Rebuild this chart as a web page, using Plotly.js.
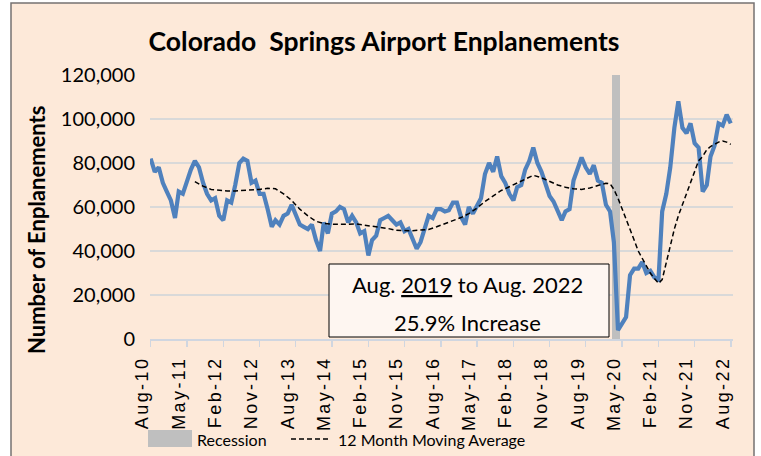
<!DOCTYPE html>
<html>
<head>
<meta charset="utf-8">
<script src="https://cdn.plot.ly/plotly-3.0.1.min.js"></script>
<style>
  html, body { margin: 0; padding: 0; background: #ffffff; }
  #chart { width: 761px; height: 456px; }
  .xtick text { letter-spacing: 2.4px !important; }
</style>
</head>
<body>
<div id="chart"></div>
<script>
// ---- Data ----
const startMonth = '2010-08';            // first month of the series
const enplanements = [
  // 2010 Aug-Dec
  82000, 76000, 78000, 71000, 67000,
  // 2011
  63000, 55000, 67000, 66000, 72000, 77000, 81000, 78000, 71000, 66000, 63000, 64000,
  // 2012
  56000, 54000, 63000, 62000, 70000, 80000, 82000, 81000, 71000, 72000, 66000, 66000,
  // 2013
  59000, 51000, 54000, 52000, 56000, 57000, 61000, 56000, 52000, 51000, 50000, 52000,
  // 2014
  45000, 40000, 53000, 48000, 57000, 58000, 60000, 59000, 53000, 56000, 53000, 48000,
  // 2015
  49000, 38000, 45000, 47000, 54000, 55000, 56000, 54000, 52000, 53000, 49000, 50000,
  // 2016
  45000, 41000, 44000, 50000, 56000, 55000, 59000, 59000, 58000, 58500, 62000, 62000,
  // 2017
  55500, 52000, 60000, 57000, 60000, 64000, 75000, 80000, 76000, 83000, 74000, 71000,
  // 2018
  66000, 63000, 69000, 70000, 77000, 81000, 87000, 80000, 76000, 70000, 65000, 62500,
  // 2019
  58000, 54000, 58000, 59000, 72000, 77000, 82500, 78000, 75000, 79000, 72000, 71000,
  // 2020
  61000, 58000, 44000, 4000, 7000, 10000, 29000, 32000, 32000, 35000, 30000, 31000,
  // 2021
  28000, 27000, 58000, 66000, 78000, 96000, 108000, 96000, 93500, 98000, 89000, 87000,
  // 2022 Jan-Aug
  67000, 70000, 83000, 88000, 98000, 97000, 102000, 98000
];

const maMonths = [
  '2011-07','2011-09','2011-11','2012-01','2012-03','2012-05','2012-07','2012-09','2012-11',
  '2013-01','2013-03','2013-05','2013-07','2013-09','2013-11','2014-01','2014-03','2014-05',
  '2014-07','2014-09','2014-11','2015-01','2015-03','2015-05','2015-07','2015-09','2015-11',
  '2016-01','2016-03','2016-05','2016-07','2016-09','2016-11','2017-01','2017-03','2017-05',
  '2017-07','2017-09','2017-11','2018-01','2018-03','2018-05','2018-07','2018-09','2018-11',
  '2019-01','2019-03','2019-05','2019-07','2019-09','2019-11','2020-01','2020-02','2020-03',
  '2020-04','2020-05','2020-06','2020-07','2020-08','2020-09','2020-10','2020-11','2020-12',
  '2021-01','2021-02','2021-03','2021-04','2021-05','2021-06','2021-07','2021-08','2021-09',
  '2021-10','2021-11','2021-12','2022-01','2022-02','2022-03','2022-04','2022-05','2022-06',
  '2022-07','2022-08'
];
const maValues = [
  71500, 69500, 68000, 67500, 67300, 67300, 67500, 67700, 68000,
  68500, 68300, 66000, 63000, 59000, 56000, 53500, 52500, 52200,
  52100, 52200, 52300, 51800, 51300, 50800, 50200, 49400, 49200,
  49200, 49500, 49800, 51000, 52400, 53800, 55200, 57000, 59500,
  62500, 65200, 67500, 69200, 71000, 72500, 74400, 73300, 71500,
  70000, 69000, 68300, 68000, 68600, 69800, 70800, 70600, 68000,
  64000, 59500, 54500, 50000, 45000, 40000, 36500, 33000, 30000,
  27500, 25300, 27000, 35000, 43000, 50000, 56000, 61000, 66000,
  71000, 76000, 81000, 83000, 86000, 87500, 88500, 89500, 90000,
  89500, 88500
];

const recessionMonths = ['2020-03-01', '2020-04-01'];
const recessionTop = [120000, 120000];

const tickLabelsText = ['Aug-10','May-11','Feb-12','Nov-12','Aug-13','May-14','Feb-15','Nov-15',
                        'Aug-16','May-17','Feb-18','Nov-18','Aug-19','May-20','Feb-21','Nov-21','Aug-22'];
const yTicks = [0, 20000, 40000, 60000, 80000, 100000, 120000];

const chartTitle = 'Colorado\u00A0 Springs Airport Enplanements';
const yTitle = 'Number of Enplanements';
const boxLine1 = 'Aug. <u>2019</u> to Aug. 2022';
const boxLine2 = '25.9% Increase';
const legendRecession = 'Recession';
const legendMA = '12 Month Moving Average';

// ---- Build monthly date axis ----
function monthDates(start, n) {
  const [y0, m0] = start.split('-').map(Number);
  const out = [];
  for (let i = 0; i < n; i++) {
    const t = (m0 - 1) + i;
    const y = y0 + Math.floor(t / 12);
    const m = (t % 12) + 1;
    out.push(y + '-' + String(m).padStart(2, '0') + '-01');
  }
  return out;
}
const dates = monthDates(startMonth, enplanements.length);
// tick positions every 9 months, matching the labels
const tickVals = tickLabelsText.map((_, i) => dates[i * 9]);

// ---- Geometry helpers (pixel -> paper) ----
const W = 761, H = 456;
const M = { l: 150, r: 28, t: 75, b: 117 };
const PW = W - M.l - M.r, PH = H - M.t - M.b;
const px = x => (x - M.l) / PW;
const py = y => (H - M.b - y) / PH;

const peach = '#FDE9D9';
const blue = '#4F81BD';

const traces = [
  {
    type: 'bar', x: recessionMonths, y: recessionTop,
    marker: { color: '#BFBFBF', line: { width: 0 } },
    hoverinfo: 'skip', showlegend: false
  },
  {
    type: 'scatter', mode: 'lines', x: dates, y: enplanements,
    line: { color: blue, width: 4.2 },
    hoverinfo: 'skip', showlegend: false
  },
  {
    type: 'scatter', mode: 'lines', x: maMonths, y: maValues,
    line: { color: '#000000', width: 1.5, dash: '5px,3px' },
    hoverinfo: 'skip', showlegend: false
  }
];

const layout = {
  width: W, height: H,
  margin: M,
  paper_bgcolor: '#ffffff',
  plot_bgcolor: 'rgba(0,0,0,0)',
  bargap: 0,
  showlegend: false,
  font: { family: 'Lato, sans-serif', color: '#000000' },
  title: {
    text: chartTitle,
    font: { family: 'Lato, sans-serif', size: 26.5, weight: 700, color: '#000000' },
    xref: 'container', yref: 'container',
    x: 384 / W, xanchor: 'center',
    y: 1 - 42 / H, yanchor: 'middle'
  },
  xaxis: {
    type: 'date',
    range: ['2010-07-27', '2022-08-18'],
    tickmode: 'array', tickvals: tickVals, ticktext: tickLabelsText,
    tickangle: -90,
    tickfont: { family: 'Liberation Sans, Arial, sans-serif', size: 18, color: '#000000' },
    ticks: 'outside', ticklen: 6, tickwidth: 1.5, tickcolor: '#D0D6E0',
    showline: true, linecolor: '#D0D6E0', linewidth: 1.5,
    showgrid: false, zeroline: false,
    ticklabelshift: -8,
    ticklabelstandoff: 3
  },
  yaxis: {
    range: [0, 120000],
    tickmode: 'array', tickvals: yTicks,
    tickformat: ',d',
    tickfont: { family: 'Lato, sans-serif', size: 20, color: '#000000' },
    showgrid: true, gridcolor: '#D9D9D9', gridwidth: 1.5,
    zeroline: false, showline: false, ticks: '',
    ticklabelstandoff: 14
  },
  shapes: [
    { // outer chart frame
      type: 'rect', xref: 'paper', yref: 'paper', layer: 'below',
      x0: px(11), x1: px(754), y0: py(470), y1: py(3),
      fillcolor: peach, line: { color: '#767171', width: 1.5 }
    },
    { // info box
      type: 'rect', xref: 'paper', yref: 'paper', layer: 'above',
      x0: px(329), x1: px(609), y0: py(337), y1: py(264),
      fillcolor: '#FEF6F1', line: { color: '#000000', width: 1 }
    },
    { // legend: recession swatch
      type: 'rect', xref: 'paper', yref: 'paper', layer: 'above',
      x0: px(148), x1: px(192), y0: py(447), y1: py(430),
      fillcolor: '#BFBFBF', line: { width: 0 }
    },
    { // legend: moving average swatch
      type: 'line', xref: 'paper', yref: 'paper', layer: 'above',
      x0: px(291), x1: px(330), y0: py(439), y1: py(439),
      line: { color: '#000000', width: 1.5, dash: '5px,3px' }
    }
  ],
  annotations: [
    {
      text: boxLine1, xref: 'paper', yref: 'paper', x: px(467), y: py(284),
      xanchor: 'center', yanchor: 'middle', showarrow: false,
      font: { family: 'Lato, sans-serif', size: 22, color: '#000000' }
    },
    {
      text: boxLine2, xref: 'paper', yref: 'paper', x: px(467), y: py(322),
      xanchor: 'center', yanchor: 'middle', showarrow: false,
      font: { family: 'Lato, sans-serif', size: 22, color: '#000000' }
    },
    {
      text: yTitle, xref: 'paper', yref: 'paper', x: px(36), y: py(230),
      xanchor: 'center', yanchor: 'middle', textangle: -90, showarrow: false,
      font: { family: 'Lato, sans-serif', size: 22, weight: 700, color: '#000000' }
    },
    {
      text: legendRecession, xref: 'paper', yref: 'paper', x: px(195), y: py(439),
      xanchor: 'left', yanchor: 'middle', showarrow: false,
      font: { family: 'Lato, sans-serif', size: 16, color: '#000000' }
    },
    {
      text: legendMA, xref: 'paper', yref: 'paper', x: px(336), y: py(439),
      xanchor: 'left', yanchor: 'middle', showarrow: false,
      font: { family: 'Lato, sans-serif', size: 16, color: '#000000' }
    }
  ]
};

Plotly.newPlot('chart', traces, layout, { staticPlot: true, displayModeBar: false });
</script>
</body>
</html>
